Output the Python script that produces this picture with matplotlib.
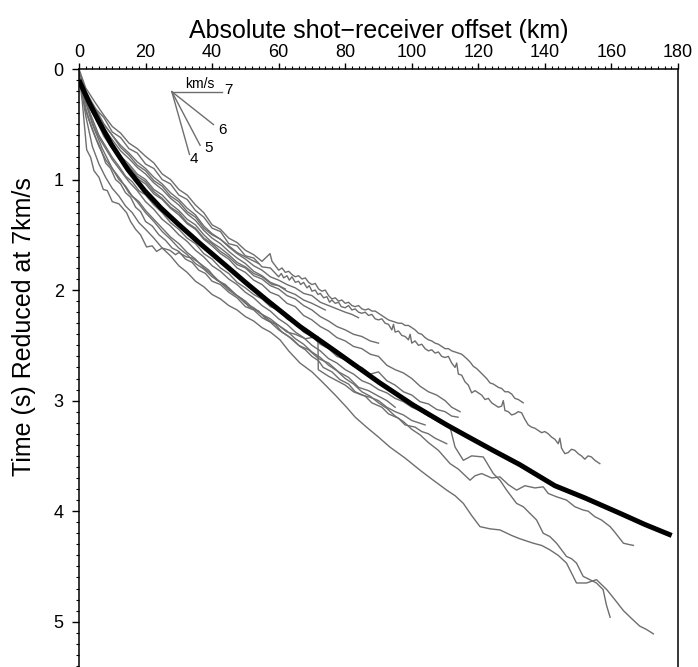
import matplotlib
matplotlib.use("Agg")
import matplotlib.pyplot as plt
from matplotlib.ticker import MultipleLocator

plt.rcParams['font.family'] = ['Liberation Sans', 'DejaVu Sans']

# ---------------- data (offset km, reduced time s) ----------------
trace_A = [(0,0.02),(2,0.20),(5,0.36),(7.5,0.44),(10,0.57),(12.5,0.62),(15,0.72),(17.5,0.76),(20,0.86),(22.5,0.90),
           (25,1.00),(27.5,1.04),(30,1.14),(32.5,1.18),(35,1.28),(37.5,1.34),(40,1.44),(42.5,1.47),(45,1.58),(47.5,1.60),
           (50,1.69),(52.5,1.71),(55,1.79),(57.5,1.80),
           (60,1.88),(60.8,1.85),(61.5,1.89),(62.5,1.87),(63.2,1.91),(64,1.88),(65,1.93),(66,1.92),(66.6,1.95),(67.5,1.93),
           (68.5,1.98),(69.2,1.96),(70,2.01),(71,2.00),(71.8,2.04),(72.5,2.03),(73.5,2.07),(74.5,2.06),(75.3,2.11),(76,2.09),
           (77,2.12),(78,2.11),(78.8,2.15),(80,2.16),(81,2.14),(82,2.18),(83,2.17),(84,2.20),(85,2.21),(86,2.20),(87,2.23),
           (88,2.22),(89,2.26),(90,2.27),(91,2.26),(92,2.30),(93,2.31),(94,2.36),(94.5,2.31),(95,2.38),(96,2.37),(97,2.41),
           (98,2.42),(99,2.45),(99.5,2.40),(100,2.48),(101,2.46),(102,2.50),(103,2.49),(104,2.53),(105,2.55),(106,2.54),
           (107,2.57),(108,2.56),(109,2.60),(110,2.61),(111,2.60),(112,2.66),(113,2.70),(113.5,2.66),(114,2.76),(115,2.77),
           (116,2.83),(117,2.86),(118,2.93),(119,2.91),(120,2.93),(121,2.95),(122,2.99),(123,2.98),(124,3.02),(125,3.04),
           (126,3.06),(127,3.05),(127.5,3.00),(128,3.09),(129,3.10),(130,3.13),(131,3.12),(132,3.10),(133,3.11),(134,3.17),
           (135,3.22),(136,3.24),(137,3.25),(138,3.27),(139,3.29),(140,3.28),(141,3.30),(142,3.33),(143,3.35),(144,3.39),
           (144.5,3.34),(145,3.43),(146,3.48),(147,3.47),(148,3.44),(149,3.45),(150,3.48),(151,3.50),(152,3.53),(153,3.50),
           (154,3.51),(155,3.54),(156.5,3.57)]
trace_B = [(0,0.0),(2,0.17),(5,0.31),(7.5,0.42),(10,0.52),(12.5,0.58),(15,0.67),(17.5,0.72),(20,0.79),(22.5,0.85),
           (25,0.95),(27.5,1.0),(30,1.09),(32.5,1.14),(35,1.23),(37.5,1.30),(40,1.41),(42.5,1.45),(45,1.53),(47.5,1.57),
           (50,1.64),(52.5,1.68),(55,1.74),(57.4,1.67),(58,1.74),
           (60,1.82),(61,1.80),(62,1.84),(63,1.83),(64,1.86),(65,1.88),(66,1.87),(67,1.90),(68,1.89),(69,1.93),(70,1.95),
           (71,1.94),(72,1.99),(73,2.01),(74,2.00),(75,2.05),(76,2.08),(77,2.07),(78,2.10),(79,2.09),(80,2.12),(81,2.11),
           (82,2.14),(83,2.15),(84,2.14),(85,2.17),(86,2.18),(87,2.17),(88,2.19),(89,2.19),(90,2.21),(91,2.23),(92,2.25),
           (93,2.27),(94,2.28),(95,2.29),(96,2.30),(97,2.30),(98,2.32),(99,2.32),(100,2.34),(101,2.36),(102,2.39),(103,2.40),
           (104,2.43),(105,2.45),(106,2.46),(107,2.48),(108,2.49),(109,2.51),(110,2.53),(111,2.53),(112,2.55),(113,2.56),
           (114,2.57),(115,2.58),(116.5,2.62),(117.5,2.65),(118.5,2.69),(119.5,2.71),(120.5,2.74),(121.5,2.77),(122.5,2.80),
           (123.5,2.84),(124.5,2.85),(126,2.88),(127,2.89),(128,2.92),(129,2.92),(130,2.94),(131,2.98),(132,2.99),(133.5,3.02)]
trace_C = [(0,0.03),(2.5,0.25),(5,0.37),(7.5,0.50),(10,0.60),(12.5,0.69),(15,0.76),(17.5,0.84),(20,0.90),(22.5,0.98),
           (25,1.04),(27.5,1.12),(30,1.18),(32.5,1.26),(35,1.32),(37.5,1.42),(40,1.49),(42.5,1.54),(45,1.61),(47.5,1.67),
           (50,1.72),(52.5,1.78),(55,1.82),(57.5,1.88),(60,1.91),(62.5,1.95),(65,1.98),(67.5,2.03),(70,2.05),(72.5,2.11),
           (75,2.14),(77.5,2.17),(80,2.20),(82,2.22),(84,2.25)]
trace_D = [(0,0.04),(2.5,0.28),(5,0.40),(7.5,0.54),(10,0.64),(12.5,0.74),(15,0.81),(17.5,0.89),(20,0.95),(22.5,1.03),
           (25,1.09),(27.5,1.17),(30,1.23),(32.5,1.31),(35,1.37),(37.5,1.46),(40,1.53),(42.5,1.58),(45,1.65),(47.5,1.71),
           (50,1.76),(52.5,1.83),(55,1.87),(57.5,1.93),(60,1.96),(62.5,2.01),(65,2.04),(67.5,2.09),(70,2.12),(72,2.15),(74,2.18)]
trace_E = [(0,0.03),(2.5,0.30),(5,0.42),(7.5,0.57),(10,0.68),(12.5,0.79),(15,0.86),(17.5,0.95),(20,1.0),(22.5,1.09),
           (25,1.14),(27.5,1.22),(30,1.28),(32.5,1.36),(35,1.41),(37.5,1.50),(40,1.57),(42.5,1.62),(45,1.68),(47.5,1.75),
           (50,1.79),(52.5,1.85),(55,1.88),(58,1.95),(60,1.96),(62,1.99)]
trace_F = [(0,0.05),(2.5,0.32),(5,0.45),(7.5,0.61),(10,0.72),(12.5,0.83),(15,0.90),(17.5,0.99),(20,1.04),(22.5,1.13),
           (25,1.18),(27.5,1.26),(30,1.32),(32.5,1.40),(35,1.45),(37.5,1.54),(40,1.60),(42.5,1.67),(45,1.72),(47.5,1.80),
           (50,1.84),(52.5,1.91),(55,1.95),(57.5,2.02),(60,2.05),(62.5,2.12),(65,2.15),(67.5,2.23),(70,2.27),(72.5,2.33),
           (75,2.37),(77.5,2.43),(80,2.46),(82.5,2.51),(85,2.53),(87.5,2.58),(90,2.60),(92.5,2.68),(95,2.72),(97.5,2.75),
           (100,2.80),(102.5,2.87),(105,2.92),(107.5,2.95),(110,3.0),(112,3.06),(114.5,3.10)]
trace_H = [(0,0.04),(2,0.30),(4,0.45),(6,0.60),(8,0.70),(10,0.80),(12,0.88),(14,0.97),(16,1.02),(18,1.10),(20,1.14),
           (22.5,1.23),(25,1.30),(27.5,1.39),(30,1.45),(32.5,1.53),(35,1.58),(37.5,1.67),(40,1.72),(42.5,1.80),(45,1.85),
           (47.5,1.93),(50,1.98),(52.5,2.04),(55,2.08),(57.5,2.15),(60,2.18),(62.5,2.26),(65,2.30),(67.5,2.38),(70,2.42),
           (72.5,2.49),(75,2.53),(77.5,2.60),(80,2.63),(82.5,2.69),(85,2.70),(87.5,2.76),(90,2.74),(92.5,2.82),(95,2.86),
           (97.5,2.92),(100,2.95),(102.5,3.01),(105,3.03),(107.5,3.08),(110,3.10),(112,3.14),(113.9,3.15)]
trace_J = [(0,0.06),(2,0.38),(4,0.55),(6,0.70),(8,0.82),(10,0.90),(12,1.0),(14,1.06),(16,1.15),(18,1.20),(20,1.28),
           (22.5,1.36),(25,1.44),(27.5,1.52),(30,1.58),(32.5,1.66),(35,1.72),(37.5,1.80),(40,1.86),(42.5,1.93),(45,1.98),
           (47.5,2.05),(50,2.10),(52.5,2.17),(55,2.22),(57.5,2.28),(60,2.32),(62.5,2.38),(65,2.40),(68,2.44),(71.8,2.42),
           (71.9,2.72),(75,2.78),(77.5,2.82),(80,2.86),(82.5,2.92),(85,2.95),(87.5,2.97),(90,3.0),(92.5,3.06),(95,3.10),
           (97.5,3.13),(100,3.18),(102,3.20),(104,3.22)]
trace_K = [(0,0.05),(2,0.35),(3.5,0.50),(5,0.62),(6.5,0.72),(8,0.85),(9.5,0.90),(11,1.0),(12.5,1.04),(14,1.12),
           (15.5,1.16),(17,1.25),(18.5,1.29),(20,1.38),(22,1.42),(24,1.50),(26,1.55),(28,1.62),(30,1.65),(32,1.72),
           (34,1.75),(36,1.82),(38,1.85),(40,1.92),(42.5,1.95),(45,2.02),(47.5,2.07),(50,2.15),(52.5,2.18),(55,2.25),
           (57.5,2.29),(60,2.36),(63,2.42),(66,2.50),(69,2.54),(72,2.62),(75,2.66),(78,2.74),(81,2.79),(84,2.88),
           (87,2.91),(90,2.96),(92.5,3.0),(95,3.06)]
trace_Q = [(0,0.05),(1,0.3),(2.3,0.73),(3.5,0.80),(4.5,0.92),(6,0.98),(7.3,1.09),(8.5,1.10),(10,1.20),(12,1.22),
           (14.3,1.30),(15.5,1.38),(17,1.45),(18.5,1.50),(20.3,1.61),(22,1.60),(23.3,1.65),(25,1.62),(27.3,1.64),(29,1.68),
           (30,1.66),(32.3,1.70),(34,1.71),(36.4,1.76),(39,1.82),(41.4,1.91),(44,1.95),(46.4,2.03),(49,2.08),(51,2.15),
           (54,2.19),(56.4,2.27),(59,2.31),(61,2.38),(64,2.44),(66.4,2.51),(68,2.54),(70,2.60),(72,2.64),(73.4,2.70),
           (76,2.74),(78.4,2.81),(81,2.85),(83,2.92),(86,2.96),(88,3.02),(91,3.06),(93,3.12),(96,3.16),(98,3.22),
           (101,3.24),(103,3.28),(105,3.30),(107,3.34),(110.5,3.39)]
trace_M = [(0,0.05),(2,0.30),(4,0.50),(7,0.72),(10,0.90),(12.5,1.0),(15,1.12),(17.5,1.20),(20,1.30),(22.5,1.38),
           (25,1.47),(27.5,1.54),(30,1.62),(32.5,1.68),(35,1.76),(37.5,1.81),(40,1.88),(42.5,1.93),(45,2.0),(47.5,2.05),
           (50,2.12),(52.5,2.16),(55,2.22),(57.5,2.26),(60,2.32),(62.5,2.37),(65,2.44),(67.5,2.49),(70,2.56),(72.5,2.61),
           (75,2.68),(77.5,2.73),(80,2.80),(82.5,2.85),(85,2.92),(87.5,2.96),(90,3.02),(92.5,3.07),(95,3.14),(97.5,3.19),
           (100,3.26),(102.5,3.31),(105,3.38),(108,3.45),(111.5,3.57),(114,3.62),(117.5,3.72),(119,3.68),(121,3.66),
           (124,3.70),(126.5,3.69),(129,3.76),(131.5,3.81),(134,3.77),(137,3.79),(139.5,3.78),(141,3.84),(143.5,3.87),
           (146.5,3.90),(149,3.96),(151.5,3.99),(153,4.00),(155,4.05),(157,4.08),(159.6,4.14),(161,4.19),(163.6,4.29),
           (165,4.30),(166.6,4.31)]
trace_N = [(0,0.03),(1.5,0.22),(3,0.38),(4.5,0.52),(6,0.62),(8,0.72),(10,0.82),(12.5,0.92),(15,1.02),(17.5,1.10),
           (20,1.20),(22.5,1.27),(25,1.36),(27.5,1.42),(30,1.50),(32.5,1.56),(35,1.64),(37.5,1.70),(40,1.78),(42.5,1.83),
           (45,1.90),(47.5,1.95),(50,2.02),(52.5,2.07),(55,2.14),(57.5,2.19),(60,2.26),(62.5,2.31),(65,2.38),(67.5,2.43),
           (70,2.50),(72.5,2.55),(75,2.62),(77.5,2.66),(80,2.72),(82.5,2.76),(85,2.82),(87.5,2.85),(90,2.90),(92.5,2.93),
           (95,2.98),(97.5,3.01),(100,3.06),(102.5,3.09),(105,3.14),(108,3.18),(111.5,3.24),(113,3.42),(115.5,3.54),
           (118,3.50),(121.5,3.51),(124.5,3.66),(126.5,3.72),(128.5,3.81),(131.5,3.93),(133.5,3.96),(135.5,4.02),
           (137.5,4.08),(139.5,4.20),(141.5,4.23),(143.5,4.29),(146.5,4.41),(148,4.43),(149.5,4.47),(151.5,4.59),
           (153.5,4.62),(155.5,4.65),(157.5,4.71),(158.5,4.85),(159.6,4.96)]
trace_P = [(0,0.05),(2,0.42),(4,0.70),(6,0.86),(8,0.98),(10,1.08),(12,1.15),(14,1.24),(16,1.30),(18,1.39),(20,1.45),
           (22.5,1.53),(25,1.62),(27.5,1.69),(30,1.78),(32.5,1.84),(35,1.92),(37.5,1.97),(40,2.04),(42.5,2.08),(45,2.14),
           (47.5,2.18),(50,2.24),(52.5,2.28),(55,2.34),(57.5,2.38),(60.4,2.45),(63,2.55),(66.4,2.66),(70,2.74),(73.4,2.84),
           (77,2.95),(80.4,3.06),(83,3.15),(86.4,3.24),(90,3.33),(93.4,3.42),(98,3.52),(102.5,3.63),(106,3.71),(110.5,3.81),
           (113,3.86),(115.5,3.93),(118,4.04),(120.5,4.14),(123.5,4.16),(126.5,4.17),(130,4.22),(132.5,4.25),(136.5,4.29),
           (139,4.31),(141.5,4.35),(144,4.40),(146.5,4.47),(148,4.56),(149.5,4.65),(152.5,4.65),(155.5,4.62),(158.6,4.71),
           (161,4.80),(163.6,4.90),(166,4.97),(168.5,5.04),(170.5,5.07),(172.6,5.11)]
trace_R = [(0,0.02),(2.5,0.26),(5,0.36),(7.5,0.50),(10,0.60),(12.5,0.71),(15,0.78),(17.5,0.87),(20,0.92),(22.5,1.01),
           (25,1.06),(27.5,1.15),(30,1.20),(32.5,1.29),(35,1.34),(37.5,1.44),(40,1.50),(42.5,1.54),(45,1.60),(47.5,1.66),
           (50,1.70),(52,1.73),(54,1.76)]
trace_S = [(0,0.04),(2.5,0.31),(5,0.44),(7.5,0.60),(10,0.70),(12.5,0.81),(15,0.88),(17.5,0.97),(20,1.02),(22.5,1.11),
           (25,1.17),(27.5,1.25),(30,1.30),(32.5,1.39),(35,1.44),(37.5,1.53),(40,1.58),(42.5,1.65),(45,1.70),(47.5,1.77),
           (50,1.80),(52.5,1.87),(55,1.90),(57.5,1.96),(60,1.99),(62.5,2.05),(65,2.08),(67.5,2.14),(70,2.18),(72.5,2.24),
           (75,2.28),(77.5,2.33),(80,2.36),(82.5,2.40),(85,2.42),(87.5,2.46),(90,2.48)]

traces = [trace_A, trace_B, trace_C, trace_D, trace_E, trace_F, trace_H, trace_J,
          trace_K, trace_Q, trace_M, trace_N, trace_P, trace_R, trace_S]

# average (thick black) travel-time curve
avg_x = [0, 0.2, 3, 5.7, 9.7, 14.7, 19.7, 24.7, 29.7, 36.4, 43.8, 50, 56.4, 66.4, 76.4, 82, 90.4, 100.4,
         110.5, 116.5, 124.4, 132.5, 143, 152, 162.6, 170, 178.1]
avg_t = [0.10, 0.115, 0.30, 0.46, 0.68, 0.91, 1.10, 1.26, 1.40, 1.58, 1.77, 1.93, 2.09, 2.33, 2.54, 2.66, 2.84, 3.04,
         3.22, 3.32, 3.45, 3.58, 3.77, 3.88, 4.02, 4.12, 4.22]

# velocity fan legend
fan_origin_x = 27.9
fan_origin_t = 0.205
fan_reduction_v = 7.0
fan_velocities = [7, 6, 5, 4]
fan_extent_km = [15, 12.5, 8.5, 5.3]
fan_label_offsets = [(7, 2), (9, -5), (8, -3), (4, -5)]

# ---------------- figure ----------------
W, H = 698, 667
fig = plt.figure(figsize=(W / 100, H / 100), dpi=100)
ax = fig.add_axes([79 / W, 0, 599 / W, 598 / H])

gray = '#6e6e6e'
for tr in traces:
    xs = [p[0] for p in tr]
    ts = [p[1] for p in tr]
    ax.plot(xs, ts, color=gray, lw=1.0)

ax.plot(avg_x, avg_t, color='black', lw=3.6, solid_capstyle='butt')

# velocity fan
for v, dx, off in zip(fan_velocities, fan_extent_km, fan_label_offsets):
    x1 = fan_origin_x + dx
    t1 = fan_origin_t + dx * (1.0 / v - 1.0 / fan_reduction_v)
    ax.plot([fan_origin_x, x1], [fan_origin_t, t1], color=gray, lw=1.0)
    ax.annotate(str(v), (x1, t1), xytext=off, textcoords='offset pixels',
                ha='center', va='center', fontsize=11)
ax.annotate('km/s', (fan_origin_x, fan_origin_t), xytext=(28, 8), textcoords='offset pixels',
            ha='center', va='center', fontsize=10)

ax.set_xlim(0, 180)
ax.set_ylim(5.41, 0)

ax.xaxis.tick_top()
ax.xaxis.set_label_position('top')
ax.xaxis.set_major_locator(MultipleLocator(20))
ax.xaxis.set_minor_locator(MultipleLocator(2))
ax.yaxis.set_major_locator(MultipleLocator(1))
ax.yaxis.set_minor_locator(MultipleLocator(0.1))

ax.tick_params(axis='x', which='major', direction='out', length=4.5, width=1.0, labelsize=13, pad=1.5)
ax.tick_params(axis='x', which='minor', direction='out', length=2.2, width=0.8)
ax.tick_params(axis='y', which='major', direction='out', length=5, width=1.0, labelsize=13, pad=6)
ax.tick_params(axis='y', which='minor', direction='out', length=2.5, width=0.8)

ax.spines['bottom'].set_visible(False)
for s in ['top', 'left', 'right']:
    ax.spines[s].set_linewidth(1.1)

ax.set_xlabel('Absolute shot\u2212receiver offset (km)', fontsize=18, labelpad=4)
ax.set_ylabel('Time (s) Reduced at 7km/s', fontsize=18)
ax.yaxis.set_label_coords(-0.071, 0.57)

fig.savefig('out.png', dpi=100)
